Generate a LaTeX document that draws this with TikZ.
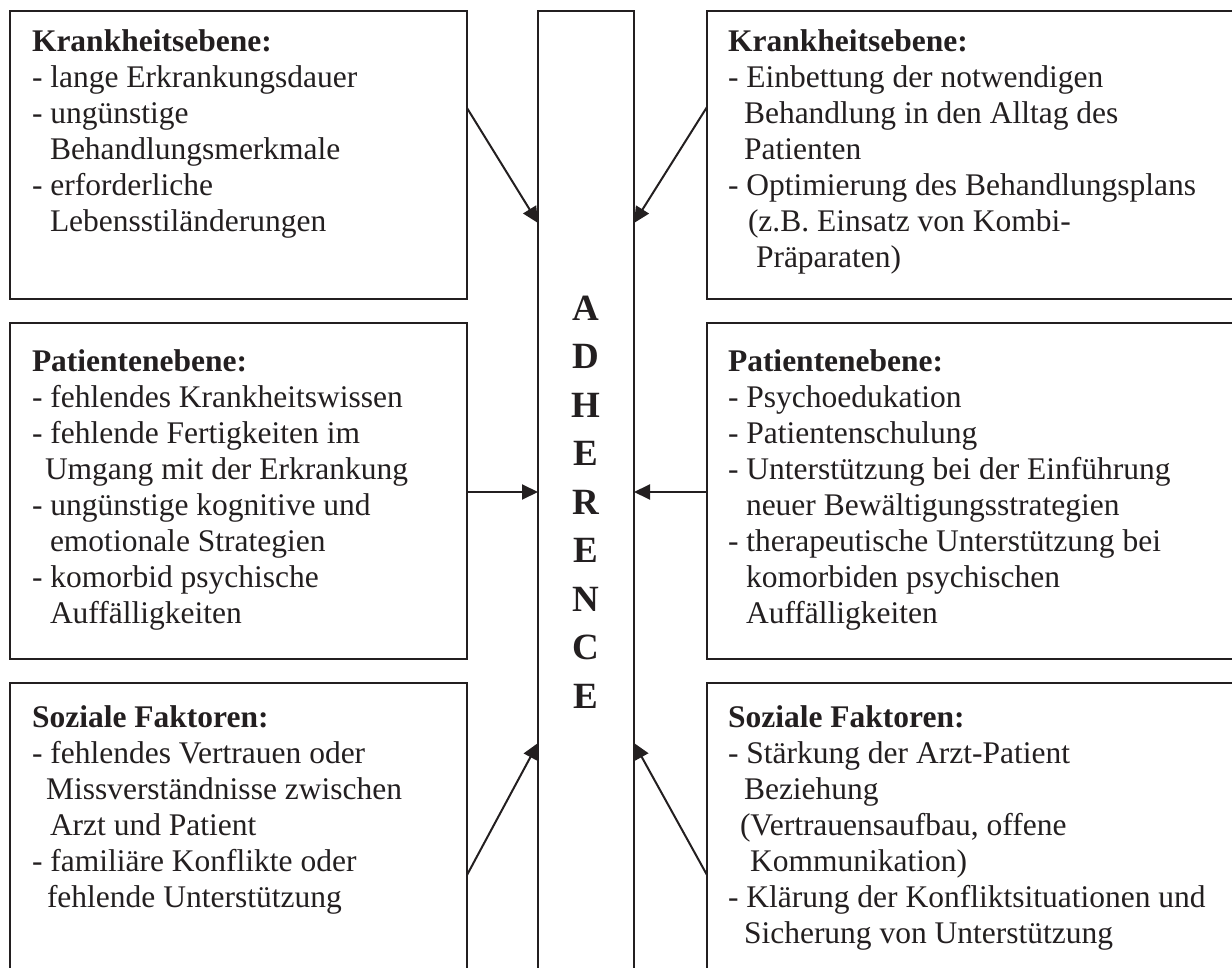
\documentclass[tikz,border=0pt]{standalone}
\usepackage{fontspec}
\setmainfont{Liberation Serif}
\usetikzlibrary{arrows.meta}
\definecolor{ink}{RGB}{35,31,32}
\newcommand\ind[1]{\hspace*{#1pt}}
\begin{document}
\begin{tikzpicture}[x=1pt,y=-1pt,
  box/.style={draw=ink,line width=1.8pt,inner sep=0pt,outer sep=0pt,anchor=north west},
  txt/.style={anchor=north west,inner sep=0pt,outer sep=0pt,align=left,text=ink,
    font=\fontsize{31.5}{36}\selectfont},
  col/.style={anchor=north,inner sep=0pt,outer sep=0pt,align=center,text=ink,
    font=\fontsize{37}{48.5}\selectfont\bfseries},
  arr/.style={draw=ink,line width=2pt,-{Triangle[length=16pt,width=15pt]}}]
\useasboundingbox (0,0) rectangle (1232,968);
% boxes
\node[box,minimum width=457pt,minimum height=288pt] (L1) at (10,11) {};
\node[box,minimum width=457pt,minimum height=336pt] (L2) at (10,323) {};
\node[box,minimum width=457pt,minimum height=320pt] (L3) at (10,683) {};
\node[box,minimum width=560pt,minimum height=288pt] (R1) at (707,11) {};
\node[box,minimum width=560pt,minimum height=336pt] (R2) at (707,323) {};
\node[box,minimum width=560pt,minimum height=320pt] (R3) at (707,683) {};
\node[box,minimum width=96pt,minimum height=1000pt] (C) at (538,11) {};
% column text
\node[col] (CT) at (586,296) {A\\D\\H\\E\\R\\E\\N\\C\\E};
% texts
\node[txt] (T1) at (32,30) {\textbf{Krankheitsebene:}\\
- lange Erkrankungsdauer\\
- ungünstige\\
\ind{18}Behandlungsmerkmale\\
- erforderliche\\
\ind{18}Lebensstiländerungen};
\node[txt] (T2) at (32,350) {\textbf{Patientenebene:}\\
- fehlendes Krankheitswissen\\
- fehlende Fertigkeiten im\\
\ind{13}Umgang mit der Erkrankung\\
- ungünstige kognitive und\\
\ind{18}emotionale Strategien\\
- komorbid psychische\\
\ind{18}Auffälligkeiten};
\node[txt] (T3) at (32,706) {\textbf{Soziale Faktoren:}\\
- fehlendes Vertrauen oder\\
\ind{14}Missverständnisse zwischen\\
\ind{18}Arzt und Patient\\
- familiäre Konflikte oder\\
\ind{15}fehlende Unterstützung};
\node[txt] (T4) at (728,30) {\textbf{Krankheitsebene:}\\
- Einbettung der notwendigen\\
\ind{16}Behandlung in den Alltag des\\
\ind{16}Patienten\\
- Optimierung des Behandlungsplans\\
\ind{20}(z.B. Einsatz von Kombi-\\
\ind{28}Präparaten)};
\node[txt] (T5) at (728,350) {\textbf{Patientenebene:}\\
- Psychoedukation\\
- Patientenschulung\\
- Unterstützung bei der Einführung\\
\ind{18}neuer Bewältigungsstrategien\\
- therapeutische Unterstützung bei\\
\ind{18}komorbiden psychischen\\
\ind{18}Auffälligkeiten};
\node[txt] (T6) at (728,706) {\textbf{Soziale Faktoren:}\\
- Stärkung der Arzt-Patient\\
\ind{16}Beziehung\\
\ind{12}(Vertrauensaufbau, offene\\
\ind{22}Kommunikation)\\
- Klärung der Konfliktsituationen und\\
\ind{16}Sicherung von Unterstützung};
% arrows
\draw[arr] ([yshift=-97pt]L1.north east) -- ([yshift=-212pt]C.north west);
\draw[arr] ([yshift=-96pt]R1.north west) -- ([yshift=-212pt]C.north east);
\draw[arr] ([yshift=-169pt]L2.north east) -- ([yshift=-481pt]C.north west);
\draw[arr] ([yshift=-169pt]R2.north west) -- ([yshift=-481pt]C.north east);
\draw[arr] ([yshift=-192pt]L3.north east) -- ([yshift=-732pt]C.north west);
\draw[arr] ([yshift=-192pt]R3.north west) -- ([yshift=-732pt]C.north east);
\end{tikzpicture}
\end{document}
